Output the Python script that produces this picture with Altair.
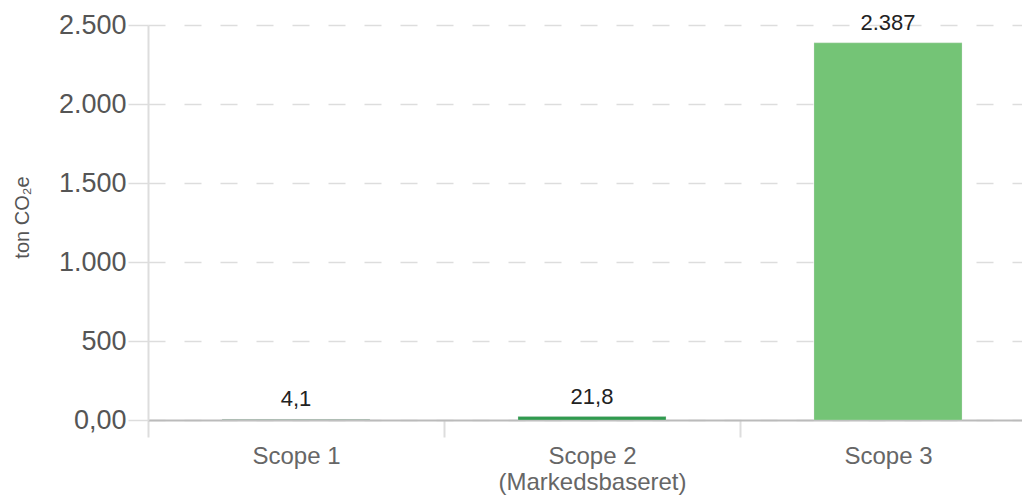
import altair as alt
import pandas as pd

categories = ["Scope 1", "Scope 2|(Markedsbaseret)", "Scope 3"]
values = [4.1, 21.8, 2387]
labels = ["4,1", "21,8", "2.387"]
colors = ["#7f9e8a", "#2f9a4e", "#74c476"]

df = pd.DataFrame({"cat": categories, "val": values, "lab": labels})

x = alt.X("cat:N", sort=categories, title=None,
          scale=alt.Scale(paddingInner=0, paddingOuter=0),
          axis=alt.Axis(labelExpr="split(datum.label, '|')", labelAngle=0, labelLimit=400,
                        labelFont="Liberation Sans", labelFontSize=24, labelColor="#666",
                        labelPadding=7, labelLineHeight=26, labelBaseline="top",
                        domainColor="#bbb", domainWidth=2,
                        tickColor="#ddd", tickSize=17, tickWidth=2, tickBand="extent",
                        grid=False))

y = alt.Y("val:Q", title="ton CO₂e",
          scale=alt.Scale(domain=[0, 2500], nice=False),
          axis=alt.Axis(values=[0, 500, 1000, 1500, 2000, 2500],
                        labelExpr="datum.value == 0 ? '0,00' : replace(format(datum.value, ','), ',', '.')",
                        labelFont="Liberation Sans", labelFontSize=27, labelColor="#555",
                        labelPadding=2, tickSize=20, tickColor="#ddd", tickWidth=1.5,
                        domainColor="#ddd", domainWidth=2,
                        gridColor="#ddd", gridDash=[17, 19], gridWidth=1.5,
                        titleFont="Liberation Sans", titleFontSize=20, titleColor="#555",
                        titleFontWeight="normal", titleX=-126, titleY=192,
                        titleAngle=-90, titleAlign="center", titleBaseline="middle"))

bars = alt.Chart(df).mark_bar(width=alt.RelativeBandSize(0.5), stroke="#ddd",
                              strokeWidth=0.5, strokeOpacity=0.6).encode(
    x=x, y=y,
    color=alt.Color("cat:N", sort=categories,
                    scale=alt.Scale(domain=categories, range=colors), legend=None),
)

text = alt.Chart(df).mark_text(baseline="alphabetic", dy=-13, font="Liberation Sans",
                               fontSize=22, color="#222").encode(
    x=alt.X("cat:N", sort=categories), y=alt.Y("val:Q"), text="lab:N")

chart = (bars + text).properties(
    width=888, height=395,
    padding={"left": 140, "top": 17, "right": -14, "bottom": 75},
    autosize=alt.AutoSizeParams(type="none"),
).configure_view(stroke=None)

chart.save("out.html", embed_options={"renderer": "svg", "actions": False})
